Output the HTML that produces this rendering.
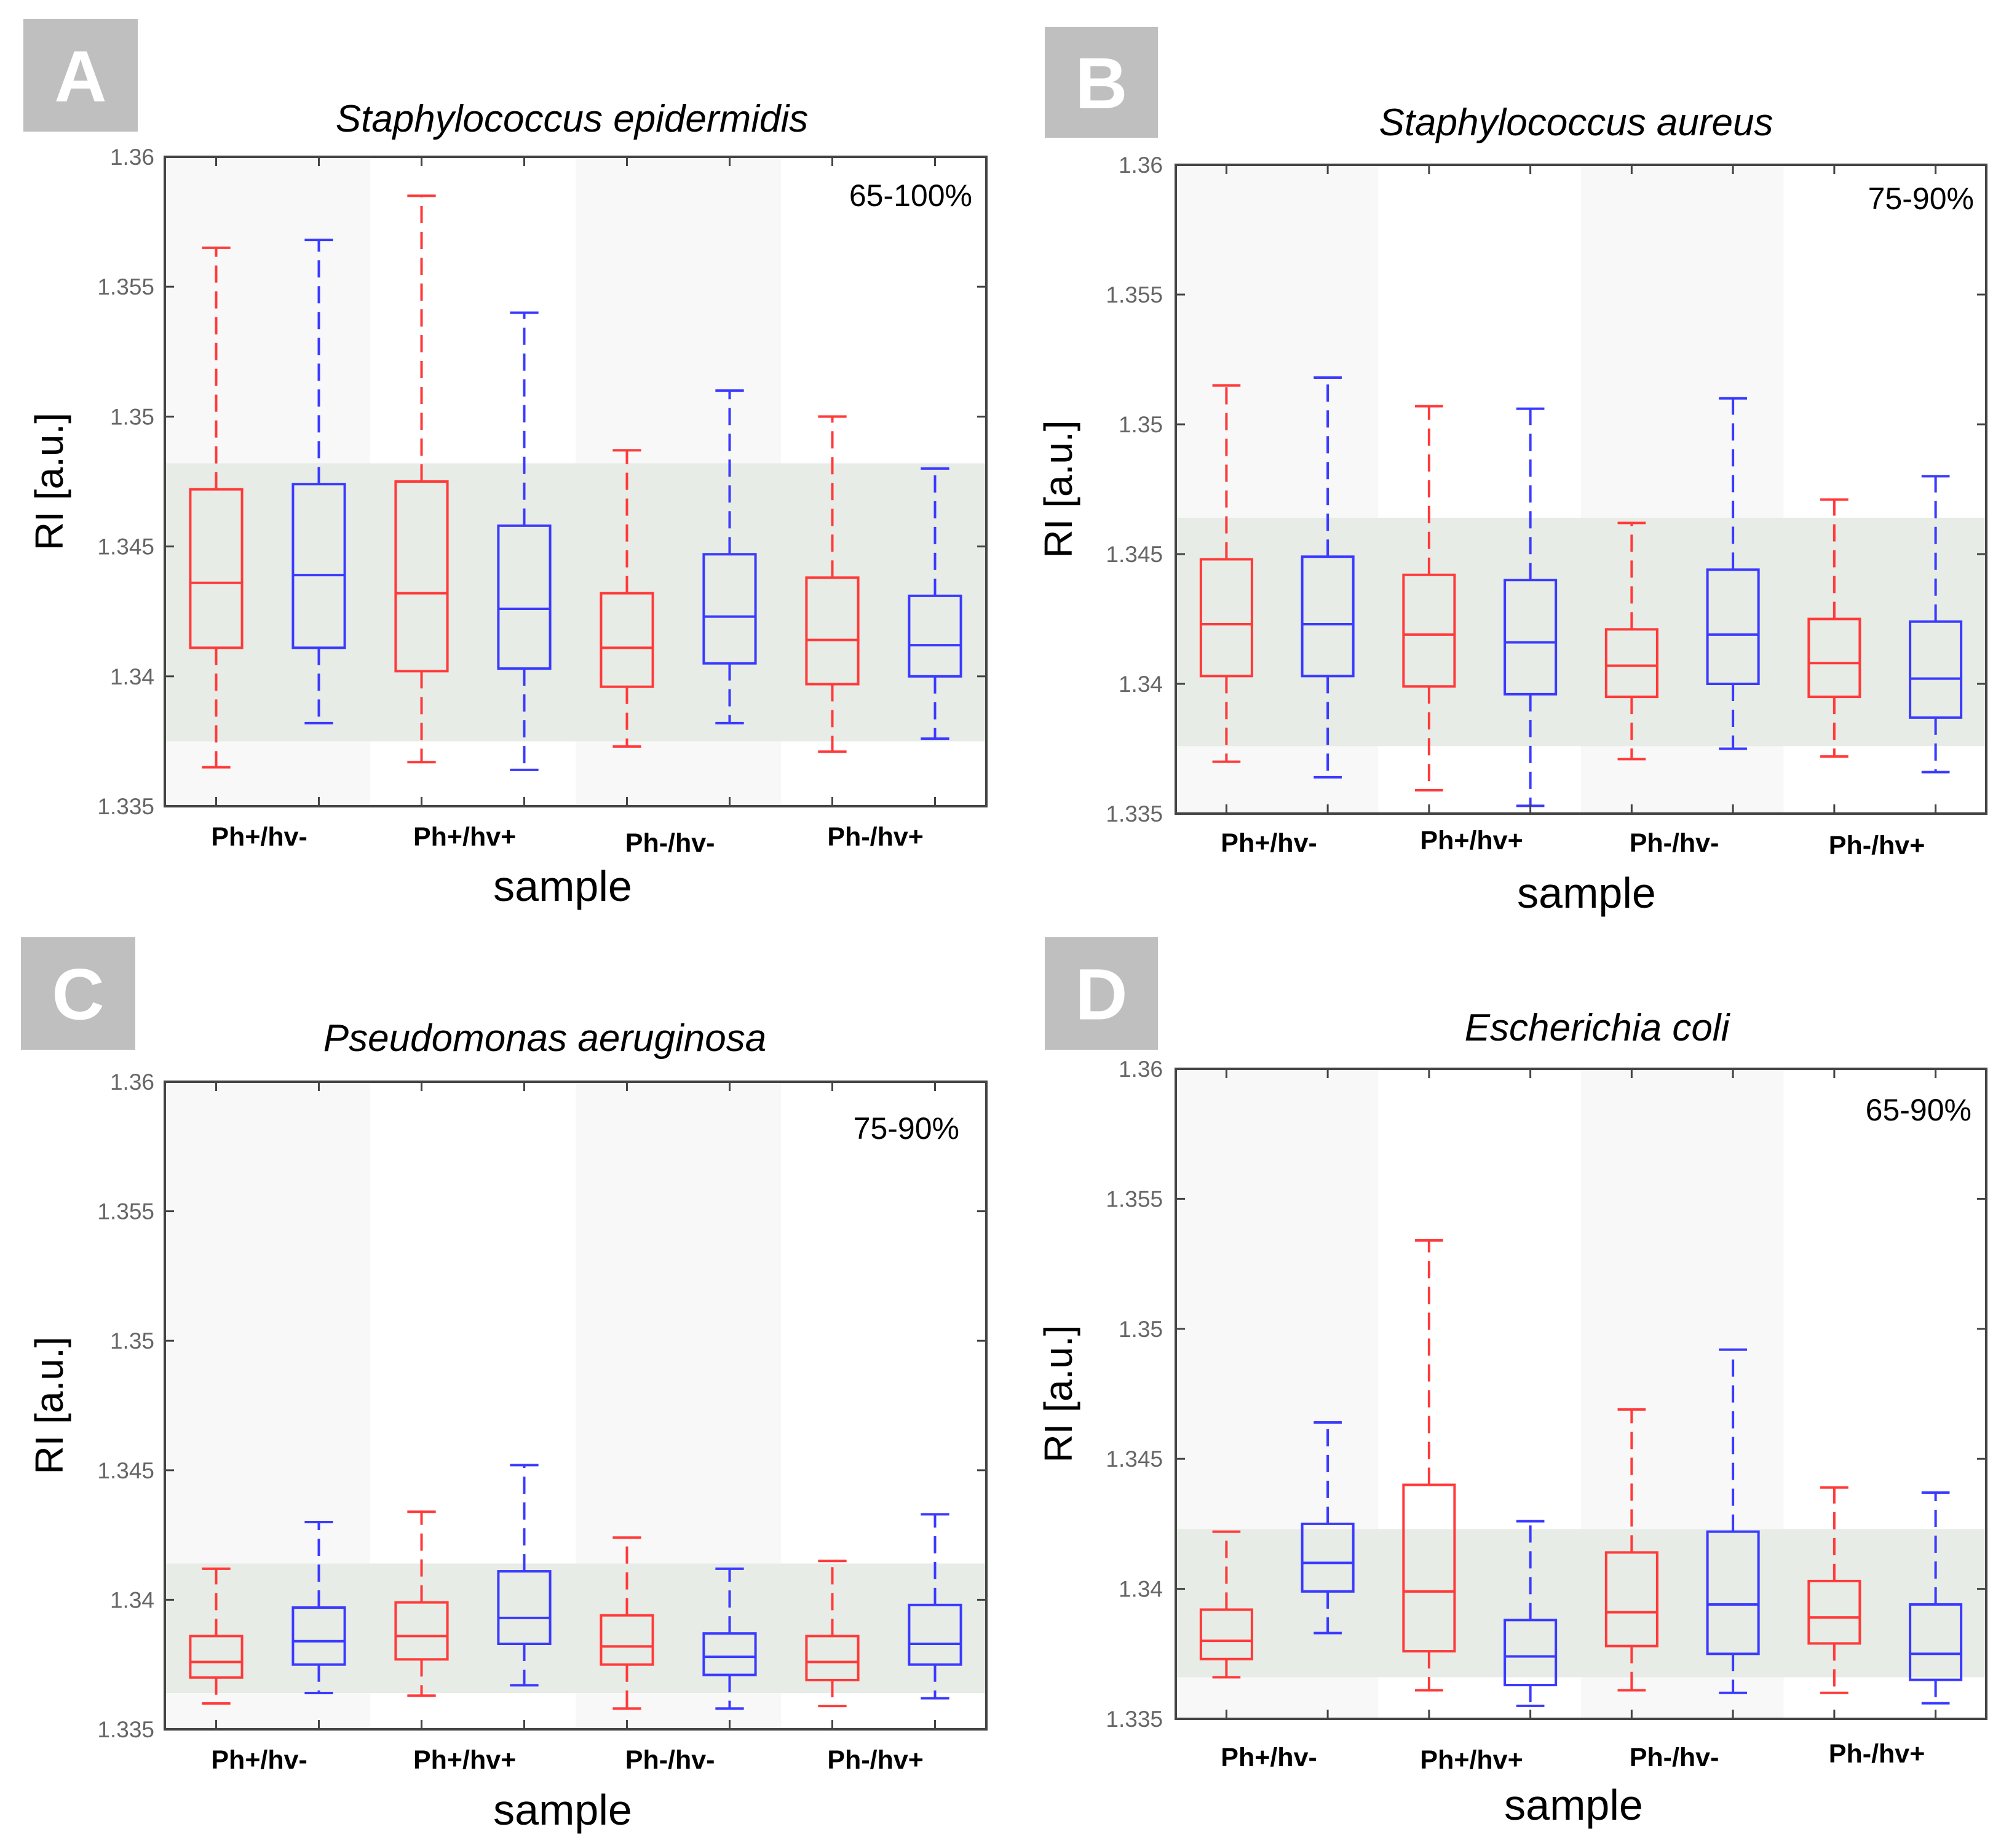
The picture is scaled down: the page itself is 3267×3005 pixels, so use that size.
<!DOCTYPE html>
<html><head><meta charset="utf-8"><style>
html,body{margin:0;padding:0;background:#fff;}
svg{display:block;}
text{font-family:"Liberation Sans",sans-serif;}
</style></head><body>
<svg id="fig" width="3267" height="3005" viewBox="0 0 3267 3005" xmlns="http://www.w3.org/2000/svg"></svg>
<script>
const categories = ["Ph+/hv-","Ph+/hv+","Ph-/hv-","Ph-/hv+"];
const yTicks = [1.335,1.34,1.345,1.35,1.355,1.36];
const yTickLabels = ["1.335","1.34","1.345","1.35","1.355","1.36"];
const seriesColors = ["red","blue","red","blue","red","blue","red","blue"];
// per box: [min,q1,median,q3,max]
const dataA = [[1.3365,1.3411,1.3436,1.3472,1.3565],[1.3382,1.3411,1.3439,1.3474,1.3568],[1.3367,1.3402,1.3432,1.3475,1.3585],[1.3364,1.3403,1.3426,1.3458,1.3540],[1.3373,1.3396,1.3411,1.3432,1.3487],[1.3382,1.3405,1.3423,1.3447,1.3510],[1.3371,1.3397,1.3414,1.3438,1.3500],[1.3376,1.3400,1.3412,1.3431,1.3480]];
const dataB = [[1.3370,1.3403,1.3423,1.3448,1.3515],[1.3364,1.3403,1.3423,1.3449,1.3518],[1.3359,1.3399,1.3419,1.3442,1.3507],[1.3353,1.3396,1.3416,1.3440,1.3506],[1.3371,1.3395,1.3407,1.3421,1.3462],[1.3375,1.3400,1.3419,1.3444,1.3510],[1.3372,1.3395,1.3408,1.3425,1.3471],[1.3366,1.3387,1.3402,1.3424,1.3480]];
const dataC = [[1.3360,1.3370,1.3376,1.3386,1.3412],[1.3364,1.3375,1.3384,1.3397,1.3430],[1.3363,1.3377,1.3386,1.3399,1.3434],[1.3367,1.3383,1.3393,1.3411,1.3452],[1.3358,1.3375,1.3382,1.3394,1.3424],[1.3358,1.3371,1.3378,1.3387,1.3412],[1.3359,1.3369,1.3376,1.3386,1.3415],[1.3362,1.3375,1.3383,1.3398,1.3433]];
const dataD = [[1.3366,1.3373,1.3380,1.3392,1.3422],[1.3383,1.3399,1.3410,1.3425,1.3464],[1.3361,1.3376,1.3399,1.3440,1.3534],[1.3355,1.3363,1.3374,1.3388,1.3426],[1.3361,1.3378,1.3391,1.3414,1.3469],[1.3360,1.3375,1.3394,1.3422,1.3492],[1.3360,1.3379,1.3389,1.3403,1.3439],[1.3356,1.3365,1.3375,1.3394,1.3437]];
const bandA = [1.3375,1.3482];
const bandB = [1.3376,1.3464];
const bandC = [1.3364,1.3414];
const bandD = [1.3366,1.3423];
const titles = ["Staphylococcus epidermidis","Staphylococcus aureus","Pseudomonas aeruginosa","Escherichia coli"];
const percents = ["65-100%","75-90%","75-90%","65-90%"];
const letters = ["A","B","C","D"];

const NS="http://www.w3.org/2000/svg";
const svg=document.getElementById('fig');
function mk(tag,attrs,parent){const e=document.createElementNS(NS,tag);for(const k in attrs)e.setAttribute(k,attrs[k]);(parent||svg).appendChild(e);return e;}
const COL={red:"#ff3a3a",blue:"#3a3aff"};

const layouts=[
 {id:"a",x0:268,x1:1604,y0:255,y1:1311,data:dataA,band:bandA,lb:[38,31,186,183],title:[930,214],tick:251,yt:80,cat:[1361,1361,1371,1361],samp:[915,1465],pct:[1581,335]},
 {id:"b",x0:1912,x1:3230,y0:268,y1:1323,data:dataB,band:bandB,lb:[1699,44,184,180],title:[2563,220],tick:1891,yt:1721,cat:[1371,1367,1371,1375],samp:[2580,1476],pct:[3210,340]},
 {id:"c",x0:268,x1:1604,y0:1759,y1:2812,data:dataC,band:bandC,lb:[34,1524,186,183],title:[886,1709],tick:251,yt:80,cat:[2862,2862,2862,2862],samp:[915,2967],pct:[1560,1852]},
 {id:"d",x0:1912,x1:3230,y0:1738,y1:2795,data:dataD,band:bandD,lb:[1699,1524,184,183],title:[2597,1692],tick:1891,yt:1721,cat:[2858,2862,2858,2852],samp:[2559,2959],pct:[3206,1822]}
];

layouts.forEach((L,pi)=>{
  const g=mk('g',{});
  
  
  const W=L.x1-L.x0;
  const yS=v=>L.y1-(v-1.335)/(1.36-1.335)*(L.y1-L.y0);
  const xS=i=>L.x0+(i+0.5)/8*W;
  const lb=mk('rect',{x:L.lb[0],y:L.lb[1],width:L.lb[2],height:L.lb[3],fill:"#bfbfbf"},g);
  
  
  const lt=mk('text',{x:L.lb[0]+L.lb[2]/2,y:L.lb[1]+L.lb[3]/2+42,'text-anchor':'middle','font-size':118,'font-weight':'bold',fill:'#fff'},g);
  lt.textContent=letters[pi];
  
  
  const tt=mk('text',{x:L.title[0],y:L.title[1],'text-anchor':'middle','font-size':62,'font-style':'italic',fill:'#000'},g);
  tt.textContent=titles[pi];
  
  
  mk('rect',{x:L.x0,y:L.y0,width:W,height:L.y1-L.y0,fill:'#fff'},g);
  [0,2].forEach(k=>{
    const r=mk('rect',{x:L.x0+k*W/4,y:L.y0,width:W/4,height:L.y1-L.y0,fill:'#f8f8f8'},g);
    
    
  });
  const band=mk('rect',{x:L.x0,y:yS(L.band[1]),width:W,height:yS(L.band[0])-yS(L.band[1]),fill:'#e4eae3','fill-opacity':0.9},g);
  
  
  const bw=W*0.063, cw=bw*0.55;
  L.data.forEach((d,i)=>{
    const c=COL[seriesColors[i]], x=xS(i);
    const bg=mk('g',{stroke:c,fill:'none','stroke-width':4},g);
    
    
    mk('line',{x1:x,x2:x,y1:yS(d[3]),y2:yS(d[4]),'stroke-dasharray':'28,14'},bg);
    mk('line',{x1:x,x2:x,y1:yS(d[1]),y2:yS(d[0]),'stroke-dasharray':'28,14'},bg);
    mk('line',{x1:x-cw/2,x2:x+cw/2,y1:yS(d[4]),y2:yS(d[4])},bg);
    mk('line',{x1:x-cw/2,x2:x+cw/2,y1:yS(d[0]),y2:yS(d[0])},bg);
    mk('rect',{x:x-bw/2,y:yS(d[3]),width:bw,height:yS(d[1])-yS(d[3])},bg);
    mk('line',{x1:x-bw/2,x2:x+bw/2,y1:yS(d[2]),y2:yS(d[2])},bg);
  });
  const fr=mk('rect',{x:L.x0,y:L.y0,width:W,height:L.y1-L.y0,fill:'none',stroke:'#444','stroke-width':4},g);
  
  
  yTicks.forEach((v,k)=>{
    const y=yS(v);
    mk('line',{x1:L.x0,x2:L.x0+15,y1:y,y2:y,stroke:'#444','stroke-width':3},g);
    mk('line',{x1:L.x1,x2:L.x1-15,y1:y,y2:y,stroke:'#444','stroke-width':3},g);
    const t=mk('text',{x:L.tick,y:y+13,'text-anchor':'end','font-size':37,fill:'#666'},g);
    t.textContent=yTickLabels[k];
    
    
  });
  for(let i=0;i<8;i++){
    const x=xS(i);
    mk('line',{x1:x,x2:x,y1:L.y1,y2:L.y1-15,stroke:'#444','stroke-width':3},g);
    mk('line',{x1:x,x2:x,y1:L.y0,y2:L.y0+15,stroke:'#444','stroke-width':3},g);
  }
  categories.forEach((c,k)=>{
    const t=mk('text',{x:L.x0+(k+0.5)*W/4 - W*0.01,y:L.cat[k]+14,'text-anchor':'middle','font-size':43,'font-weight':600,fill:'#000'},g);
    t.textContent=c;
    
    
  });
  const st=mk('text',{x:L.samp[0],y:L.samp[1],'text-anchor':'middle','font-size':70,fill:'#000'},g);
  st.textContent='sample';
  
  
  const cy=(L.y0+L.y1)/2;
  const yt=mk('text',{x:L.yt,y:cy,'text-anchor':'middle','font-size':64,fill:'#000',transform:`rotate(-90 ${L.yt} ${cy}) translate(0 22)`},g);
  yt.textContent='RI [a.u.]';
  
  
  const pt=mk('text',{x:L.pct[0],y:L.pct[1],'text-anchor':'end','font-size':50,fill:'#000'},g);
  pt.textContent=percents[pi];
  
  
});
</script>
</body></html>
